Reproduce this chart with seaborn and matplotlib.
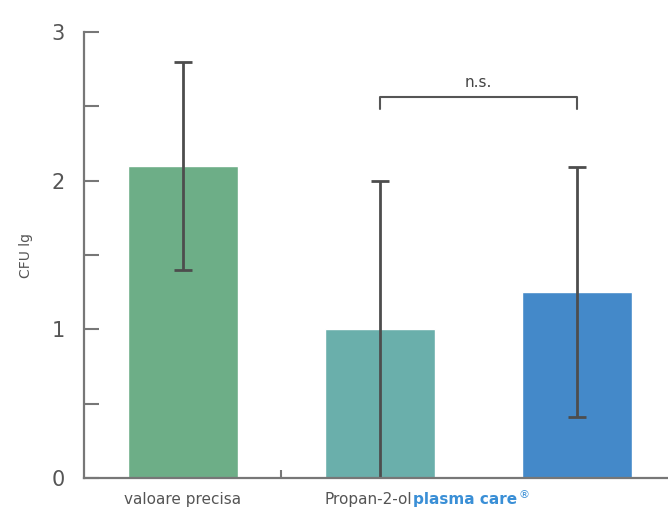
import matplotlib
matplotlib.use("Agg")
import matplotlib.pyplot as plt
import matplotlib.ticker as mtick
import matplotlib.transforms as mtrans
import pandas as pd
import seaborn as sns

# datos
grupos = ["valoare precisa", "Propan-2-ol", "plasma care"]
medias = [2.10, 1.00, 1.25]
errores = [0.70, 1.00, 0.84]
colores = ["#6dae87", "#6aafab", "#4489c9"]
texto_ns = "n.s."
ylabel = "CFU lg"

df = pd.DataFrame({"grupo": grupos, "cfu": medias})

sns.set_style("white")
plt.rcParams["font.family"] = ["DejaVu Sans"]

fig = plt.figure(figsize=(6.68, 5.17), dpi=100)
ax = fig.add_axes([0.1257, 0.0754, 0.8743, 0.8627])

sns.barplot(data=df, x="grupo", y="cfu", hue="grupo", palette=colores,
            width=0.557, saturation=1, errorbar=None, legend=False, ax=ax)
ax.errorbar(range(len(grupos)), medias, yerr=errores, fmt="none",
            ecolor="#4d4d4d", elinewidth=2, capsize=6.5, capthick=2, zorder=2.4)

ax.set_xlim(-0.5, 2.46)
ax.set_ylim(0, 3)

# ejes
for lado in ["top", "right"]:
    ax.spines[lado].set_visible(False)
for lado in ["left", "bottom"]:
    ax.spines[lado].set_color("#777777")
    ax.spines[lado].set_linewidth(1.6)

ax.yaxis.set_major_locator(mtick.MultipleLocator(1))
ax.yaxis.set_minor_locator(mtick.MultipleLocator(0.5))
ax.tick_params(axis="y", which="both", left=True, direction="in", length=11,
               width=1.5, color="#777777", labelsize=15, labelcolor="#555555",
               pad=14)
ax.set_xticks([0.5])
ax.set_xticklabels([""])
ax.tick_params(axis="x", bottom=True, direction="in", length=6, width=1.5,
               color="#777777")
ax.set_xlabel("")
ax.set_ylabel(ylabel, fontsize=10, color="#555555")
ax.yaxis.set_label_coords(-0.088, 0.5)

# etiquetas del eje x
trans = mtrans.blended_transform_factory(ax.transData, ax.transAxes)
ax.text(0, -0.032, grupos[0], transform=trans, ha="center", va="top",
        fontsize=11, color="#555555")
t1 = ax.text(1 - 0.557 / 2, -0.032, grupos[1], transform=trans, ha="left",
             va="top", fontsize=11, color="#555555")
t2 = ax.annotate(grupos[2], xy=(1, 0), xycoords=t1, ha="left", va="bottom",
                 fontsize=11, fontweight="bold", color="#3a8fd6")
ax.annotate("®", xy=(1, 0.45), xycoords=t2, xytext=(1, 0),
            textcoords="offset points", ha="left", va="bottom",
            fontsize=8, color="#3a8fd6")

# corchete n.s.
ax.plot([1, 1, 2, 2], [2.48, 2.56, 2.56, 2.48], color="#555555", lw=1.5,
        clip_on=False)
ax.text(1.5, 2.61, texto_ns, ha="center", va="bottom", fontsize=11,
        color="#444444")

fig.savefig("out.png", dpi=100)
